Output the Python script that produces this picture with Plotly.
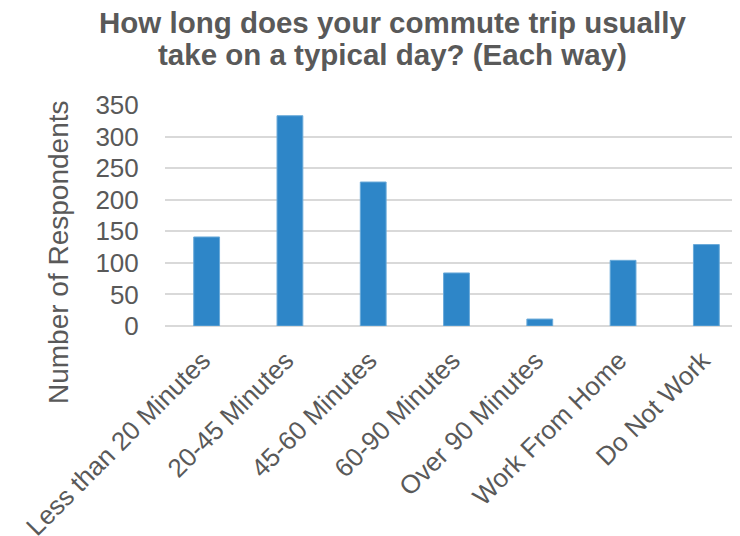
import plotly.graph_objects as go

categories = ["Less than 20 Minutes", "20-45 Minutes", "45-60 Minutes", "60-90 Minutes",
              "Over 90 Minutes", "Work From Home", "Do Not Work"]
respondents = [141, 333, 228, 84, 11, 104, 129]
y_ticks = [0, 50, 100, 150, 200, 250, 300, 350]
title_lines = ["How long does your commute trip usually",
               "take on a typical day? (Each way)"]

FONT = "Liberation Sans, Arial, sans-serif"
GRAY = "#595959"

ML, MT, PW, PH = 157, 97, 583, 221

fig = go.Figure(go.Bar(
    x=categories, y=respondents,
    marker=dict(color="#2E86C8", line=dict(color="#6AAAD9", width=1)),
))

fig.update_layout(
    width=740, height=536,
    margin=dict(l=ML, r=0, t=MT, b=536 - MT - PH),
    paper_bgcolor="white", plot_bgcolor="white",
    bargap=0.69,
    showlegend=False,
    font=dict(family=FONT, color=GRAY),
)

fig.update_xaxes(
    range=[-0.5, 6.5],
    tickangle=-45,
    tickfont=dict(family=FONT, size=26, color=GRAY),
    showgrid=False, showline=False,
    ticks="outside", ticklen=8, tickcolor="rgba(0,0,0,0)",
    ticklabelshift=-4,
    automargin=False,
)
fig.update_yaxes(
    range=[0, 350],
    tickvals=y_ticks,
    tickfont=dict(family=FONT, size=26, color=GRAY),
    showgrid=True, gridcolor="#D9D9D9", gridwidth=1.5,
    zeroline=True, zerolinecolor="#D9D9D9", zerolinewidth=1.5,
    showline=False, ticks="outside", ticklen=20, tickcolor="rgba(0,0,0,0)",
    automargin=False,
)

# chart title (two lines, placed individually)
for line, yc in zip(title_lines, [22, 55]):
    fig.add_annotation(
        text="<b>" + line + "</b>",
        xref="paper", yref="paper",
        x=(384 - ML) / PW, y=1 + (MT - (yc - 8)) / PH,
        xanchor="center", yanchor="middle", showarrow=False,
        font=dict(family=FONT, size=29.5, color=GRAY),
    )

# y-axis title
fig.add_annotation(
    text="Number of Respondents",
    xref="paper", yref="paper",
    x=(50 - ML) / PW, y=1 - (244 - MT) / PH,
    textangle=-90, showarrow=False,
    xanchor="center", yanchor="middle",
    font=dict(family=FONT, size=28, color=GRAY),
)

fig.write_html("out.html")
